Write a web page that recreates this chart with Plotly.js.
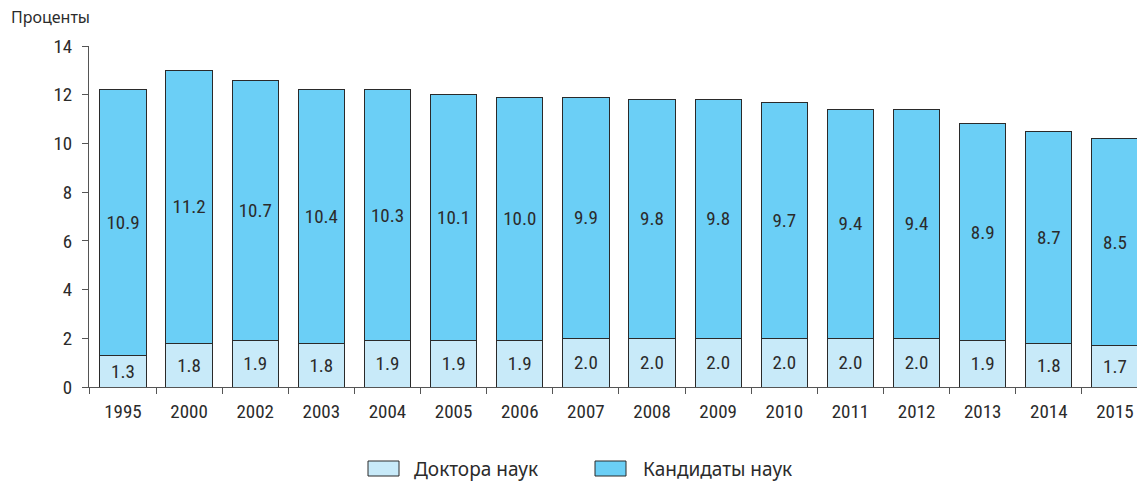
<!DOCTYPE html>
<html>
<head>
<meta charset="utf-8">
<script src="https://cdn.plot.ly/plotly-3.0.1.min.js"></script>
<style>html,body{margin:0;padding:0;background:#fff;overflow:hidden;}</style>
</head>
<body>
<div id="chart" style="width:1137px;height:481px;"></div>
<script>
const years = ["1995","2000","2002","2003","2004","2005","2006","2007","2008","2009","2010","2011","2012","2013","2014","2015"];
const doctors = [1.3,1.8,1.9,1.8,1.9,1.9,1.9,2.0,2.0,2.0,2.0,2.0,2.0,1.9,1.8,1.7];
const candidates = [10.9,11.2,10.7,10.4,10.3,10.1,10.0,9.9,9.8,9.8,9.7,9.4,9.4,8.9,8.7,8.5];
const seriesNames = ["Доктора наук","Кандидаты наук"];
const yTicks = [0,2,4,6,8,10,12,14];

const numFont = "'Liberation Sans Narrow', 'Roboto Condensed', Roboto, sans-serif";
const txtFont = "'Noto Sans', 'Open Sans', sans-serif";
const common = {
  type: 'bar',
  x: years,
  texttemplate: '%{y:.1f}',
  textposition: 'inside',
  insidetextanchor: 'middle',
  textangle: 0,
  constraintext: 'none',
  textfont: {family: numFont, size: 19, color: '#2b2b2b'},
  showlegend: false,
  hoverinfo: 'skip'
};
const data = [
  Object.assign({}, common, {y: doctors, name: seriesNames[0],
    marker: {color: '#c8eaf9', line: {color: '#2a2a2a', width: 1}}}),
  Object.assign({}, common, {y: candidates, name: seriesNames[1],
    marker: {color: '#6bcff6', line: {color: '#2a2a2a', width: 1}}})
];

const layout = {
  width: 1137, height: 481,
  margin: {l: 89, r: 0, t: 46, b: 94},
  barmode: 'stack',
  bargap: 0.3,
  paper_bgcolor: '#fff',
  plot_bgcolor: '#fff',
  font: {family: numFont, size: 19, color: '#2b2b2b'},
  xaxis: {
    type: 'category',
    range: [-0.514, 15.334],
    showline: true, linecolor: '#555', linewidth: 1,
    ticks: 'outside', tickson: 'boundaries', ticklen: 6, tickcolor: '#555',
    showgrid: false, zeroline: false,
    tickfont: {family: numFont, size: 19, color: '#2b2b2b'},
    ticklabelstandoff: 7,
    fixedrange: true
  },
  yaxis: {
    range: [0, 14],
    tickvals: yTicks,
    showline: true, linecolor: '#555', linewidth: 1,
    ticks: 'outside', ticklen: 6, tickcolor: '#555',
    showgrid: false, zeroline: false,
    tickfont: {family: numFont, size: 19, color: '#2b2b2b'},
    ticklabelstandoff: 6,
    fixedrange: true
  },
  shapes: [
    {type: 'rect', xref: 'paper', yref: 'paper', xsizemode: 'pixel', ysizemode: 'pixel',
     xanchor: 0, yanchor: 0, x0: 279, x1: 310, y0: -74, y1: -89,
     fillcolor: '#c8eaf9', line: {color: '#2a2a2a', width: 1}},
    {type: 'rect', xref: 'paper', yref: 'paper', xsizemode: 'pixel', ysizemode: 'pixel',
     xanchor: 0, yanchor: 0, x0: 506, x1: 537, y0: -74, y1: -89,
     fillcolor: '#6bcff6', line: {color: '#2a2a2a', width: 1}}
  ],
  annotations: [
    {text: 'Проценты', xref: 'paper', yref: 'paper', x: -89/1048, y: 1 + 29/341,
     xanchor: 'left', yanchor: 'middle', xshift: 9, showarrow: false,
     font: {family: txtFont, size: 16, color: '#2b2b2b'}},
    {text: seriesNames[0], xref: 'paper', yref: 'paper', x: 323/1048, y: -82/341,
     xanchor: 'left', yanchor: 'middle', showarrow: false,
     font: {family: txtFont, size: 19, color: '#2b2b2b'}},
    {text: seriesNames[1], xref: 'paper', yref: 'paper', x: 552/1048, y: -82/341,
     xanchor: 'left', yanchor: 'middle', showarrow: false,
     font: {family: txtFont, size: 19, color: '#2b2b2b'}}
  ]
};
Plotly.newPlot('chart', data, layout, {displayModeBar: false, staticPlot: true});
</script>
</body>
</html>
